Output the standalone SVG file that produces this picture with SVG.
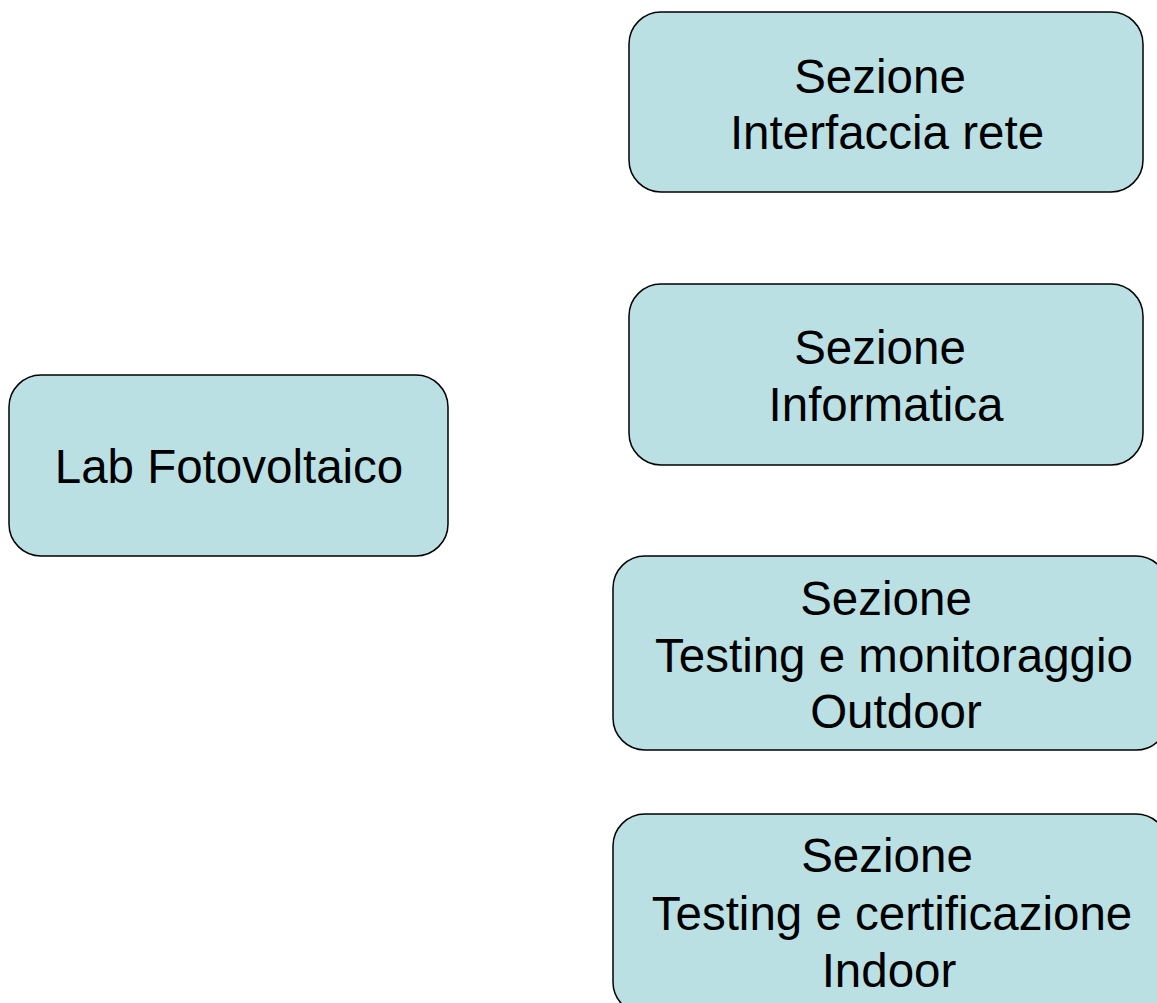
<svg xmlns="http://www.w3.org/2000/svg" width="1157" height="1003" viewBox="0 0 1157 1003">
<style>
.box{fill:#BBE0E3;stroke:#000;stroke-width:1.5}
.t{font-family:"Liberation Sans",Arial,sans-serif;font-size:47.5px;fill:#000;text-anchor:middle}
</style>
<rect width="1157" height="1003" fill="#fff"/>
<g id="lab">
<rect class="box" x="9" y="375" width="439" height="181" rx="32"/>
<text class="t" x="229" y="483">Lab Fotovoltaico</text>
</g>
<g id="interfaccia">
<rect class="box" x="629" y="12" width="514" height="180" rx="32"/>
<text class="t" x="880" y="93">Sezione</text>
<text class="t" x="887" y="149">Interfaccia rete</text>
</g>
<g id="informatica">
<rect class="box" x="629" y="284" width="514" height="181" rx="32"/>
<text class="t" x="880" y="364">Sezione</text>
<text class="t" x="886" y="421">Informatica</text>
</g>
<g id="outdoor">
<rect class="box" x="613" y="556" width="555" height="194" rx="32"/>
<text class="t" x="886" y="615">Sezione</text>
<text class="t" x="894" y="672">Testing e monitoraggio</text>
<text class="t" x="896" y="728">Outdoor</text>
</g>
<g id="indoor">
<rect class="box" x="613" y="814" width="555" height="200" rx="32"/>
<text class="t" x="887" y="872">Sezione</text>
<text class="t" x="892" y="930">Testing e certificazione</text>
<text class="t" x="889" y="987">Indoor</text>
</g>
<g id="connectors"></g>
</svg>
